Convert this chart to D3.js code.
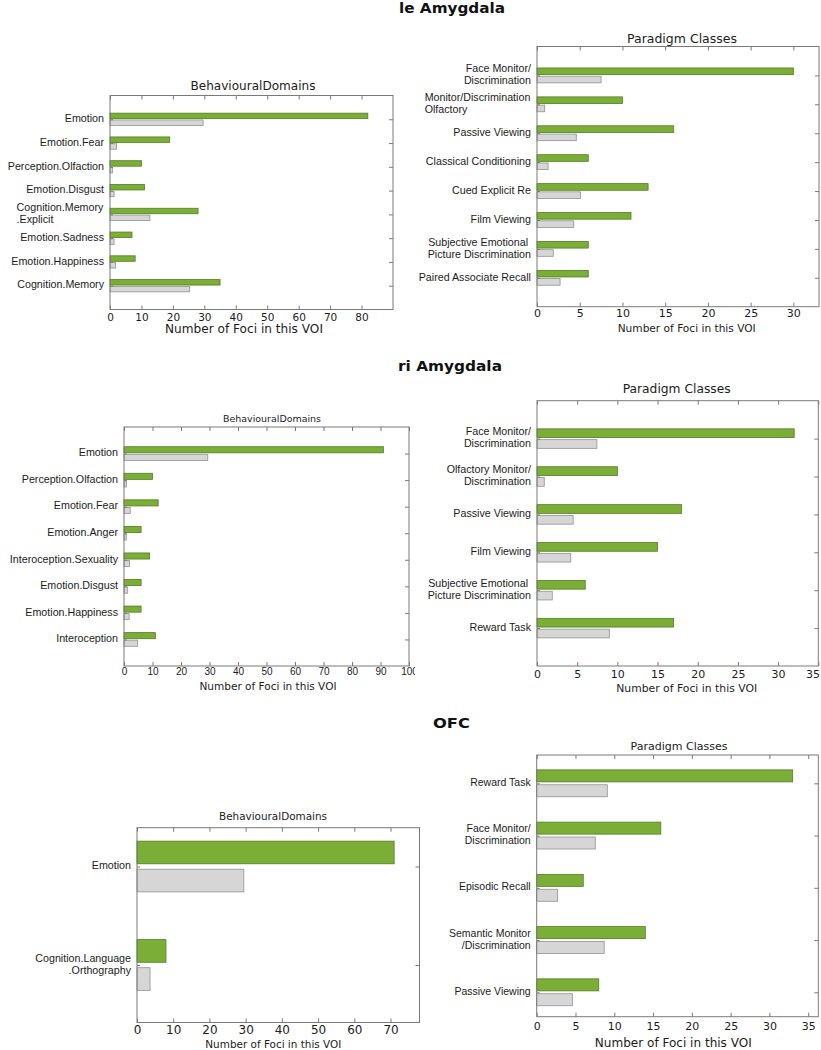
<!DOCTYPE html>
<html><head><meta charset="utf-8">
<script src="https://cdn.jsdelivr.net/npm/d3@7"></script>
<style>body{margin:0;background:#fff}svg{display:block}</style>
</head><body>
<svg id="chart" width="821" height="1050"></svg>
<script>
// ---------- data ----------
const sectionTitles = ["le Amygdala", "ri Amygdala", "OFC"];

const leBDCategories = ["Emotion","Emotion.Fear","Perception.Olfaction","Emotion.Disgust","Cognition.Memory\n.Explicit","Emotion.Sadness","Emotion.Happiness","Cognition.Memory"];
const leBDObserved = [82, 19, 10, 11, 28, 7, 8, 35];
const leBDExpected = [29.6, 2.1, 0.8, 1.3, 12.7, 1.3, 1.8, 25.3];
const leBDTicks = [0,10,20,30,40,50,60,70,80];

const lePCCategories = ["Face Monitor/\nDiscrimination","Monitor/Discrimination\nOlfactory","Passive Viewing","Classical Conditioning","Cued Explicit Re","Film Viewing","Subjective Emotional\u00A0\nPicture Discrimination","Paired Associate Recall"];
const lePCObserved = [30, 10, 16, 6, 13, 11, 6, 6];
const lePCExpected = [7.5, 0.9, 4.6, 1.3, 5.1, 4.3, 1.9, 2.7];
const lePCTicks = [0,5,10,15,20,25,30];

const riBDCategories = ["Emotion","Perception.Olfaction","Emotion.Fear","Emotion.Anger","Interoception.Sexuality","Emotion.Disgust","Emotion.Happiness","Interoception"];
const riBDObserved = [91, 10, 12, 6, 9, 6, 6, 11];
const riBDExpected = [29.4, 0.9, 2.2, 0.8, 1.9, 1.3, 1.8, 4.8];
const riBDTicks = [0,10,20,30,40,50,60,70,80,90,100];

const riPCCategories = ["Face Monitor/\nDiscrimination","Olfactory Monitor/\nDiscrimination","Passive Viewing","Film Viewing","Subjective Emotional\u00A0\nPicture Discrimination","Reward Task"];
const riPCObserved = [32, 10, 18, 15, 6, 17];
const riPCExpected = [7.45, 0.9, 4.5, 4.2, 1.9, 9.0];
const riPCTicks = [0,5,10,15,20,25,30,35];

const ofcBDCategories = ["Emotion","Cognition.Language\n.Orthography"];
const ofcBDObserved = [71, 8];
const ofcBDExpected = [29.5, 3.6];
const ofcBDTicks = [0,10,20,30,40,50,60,70];

const ofcPCCategories = ["Reward Task","Face Monitor/\nDiscrimination","Episodic Recall","Semantic Monitor\n/Discrimination","Passive Viewing"];
const ofcPCObserved = [33, 16, 6, 14, 8];
const ofcPCExpected = [9.1, 7.55, 2.7, 8.7, 4.6];
const ofcPCTicks = [0,5,10,15,20,25,30,35];

const leftAlignedLabels = new Set(["Cognition.Memory\n.Explicit","Monitor/Discrimination\nOlfactory"]);

// ---------- layout / style ----------
const XLABEL = "Number of Foci in this VOI";
const panels = [
  {cats:leBDCategories, obs:leBDObserved, exp:leBDExpected, ticks:leBDTicks, xMax:90, yLim:[0,9],
   box:[110,95.5,393,309.5], title:"BehaviouralDomains", titleX:253, titleY:90, titleW:125, titleFs:11.5,
   xlX:244, xlY:333, xlW:158, xlFs:11.5, tickFs:10.5, tickBase:11.2, catFs:10.7},
  {cats:lePCCategories, obs:lePCObserved, exp:lePCExpected, ticks:lePCTicks, xMax:33, yLim:[0,9],
   box:[537,46.5,819,306.7], title:"Paradigm Classes", titleX:682, titleY:43, titleW:110, titleFs:11.5,
   xlX:686.7, xlY:332, xlW:138, xlFs:10.5, tickFs:11, tickBase:10.8, catFs:10.7},
  {cats:riBDCategories, obs:riBDObserved, exp:riBDExpected, ticks:riBDTicks, xMax:100, yLim:[0,9],
   box:[124,427,409,666], title:"BehaviouralDomains", titleX:272, titleY:421.5, titleW:98, titleFs:9.5,
   xlX:268, xlY:690, xlW:137, xlFs:10.5, tickFs:10, tickBase:8.5, catFs:10.7, tickFont:"Liberation Sans", clip:415},
  {cats:riPCCategories, obs:riPCObserved, exp:riPCExpected, ticks:riPCTicks, xMax:35, yLim:[0,7],
   box:[537,400.7,818.3,666], title:"Paradigm Classes", titleX:676.7, titleY:393.3, titleW:108, titleFs:11.5,
   xlX:686.7, xlY:692, xlW:141, xlFs:10.8, tickFs:11, tickBase:12, catFs:10.7},
  {cats:ofcBDCategories, obs:ofcBDObserved, exp:ofcBDExpected, ticks:ofcBDTicks, xMax:78, yLim:[0.606,2.584],
   box:[137,827.7,419.5,1022.5], title:"BehaviouralDomains", titleX:273, titleY:820, titleW:108, titleFs:10.5,
   xlX:273.3, xlY:1048, xlW:136, xlFs:10.4, tickFs:12, tickBase:11, catFs:10.7},
  {cats:ofcPCCategories, obs:ofcPCObserved, exp:ofcPCExpected, ticks:ofcPCTicks, xMax:36.3, yLim:[0.458,5.467],
   box:[536.7,755,818.3,1016.7], title:"Paradigm Classes", titleX:679, titleY:750, titleW:97, titleFs:11,
   xlX:673.3, xlY:1047, xlW:157, xlFs:12, tickFs:11, tickBase:13, catFs:10.5}
];
const sectionPos = [{x:452,y:13,w:106},{x:450,y:370.5,w:104},{x:451.5,y:727.5,w:37}];

const GREEN = "#7aae36", GREEN_STROKE = "#527f20";
const GREY = "#d6d6d6", GREY_STROKE = "#929292";
const AXIS = "#7a7a7a", TEXT = "#1c1c1c";
const BAR_T = 0.23, BAR_GAP = 0.055;
const W = 821;

const svg = d3.select("#chart");
svg.append("rect").attr("width",W).attr("height",1050).attr("fill","#fff");

// section titles
sectionTitles.forEach((t,i)=>{
  svg.append("text").attr("x",sectionPos[i].x).attr("y",sectionPos[i].y)
    .attr("text-anchor","middle").attr("font-family","DejaVu Sans, sans-serif")
    .attr("font-weight","bold").attr("font-size",14.5).attr("fill","#111")
    .attr("textLength",sectionPos[i].w).attr("lengthAdjust","spacingAndGlyphs").text(t);
});

const defs = svg.append("defs");

panels.forEach((p,pi)=>{
  const [L,T,R,B] = p.box;
  const g = svg.append("g");
  if (p.clip) {
    defs.append("clipPath").attr("id","clip"+pi).append("rect")
      .attr("x",0).attr("y",0).attr("width",p.clip).attr("height",1050);
    g.attr("clip-path","url(#clip"+pi+")");
  }
  const x = d3.scaleLinear().domain([0,p.xMax]).range([L,R]);
  const y = d3.scaleLinear().domain(p.yLim).range([T,B]);
  const idx = p.cats.map((c,i)=>i+1);

  // bars
  g.selectAll("rect.obs").data(p.obs).join("rect").attr("class","obs")
    .attr("x",x(0)).attr("width",d=>x(d)-x(0))
    .attr("y",(d,i)=>y(i+1-BAR_GAP/2-BAR_T)).attr("height",(d,i)=>y(i+1-BAR_GAP/2)-y(i+1-BAR_GAP/2-BAR_T))
    .attr("fill",GREEN).attr("stroke",GREEN_STROKE).attr("stroke-width",0.8);
  g.selectAll("rect.exp").data(p.exp).join("rect").attr("class","exp")
    .attr("x",x(0)).attr("width",d=>x(d)-x(0))
    .attr("y",(d,i)=>y(i+1+BAR_GAP/2)).attr("height",(d,i)=>y(i+1+BAR_GAP/2+BAR_T)-y(i+1+BAR_GAP/2))
    .attr("fill",GREY).attr("stroke",GREY_STROKE).attr("stroke-width",0.8);

  // axes
  const tickFont = p.tickFont || "DejaVu Sans";
  const xb = g.append("g").attr("transform",`translate(0,${B})`)
    .call(d3.axisBottom(x).tickValues(p.ticks).tickSize(-4).tickPadding(p.tickBase-0.71*p.tickFs).tickFormat(d3.format("d")));
  xb.selectAll("text").attr("font-family",tickFont).attr("font-size",p.tickFs).attr("fill",TEXT);
  if (!p.clip) {
    xb.selectAll(".tick").each(function(){
      const tx = d3.select(this).select("text");
      const bb = this.getBoundingClientRect();
      const over = bb.right - (W - 1);
      if (over > 0) tx.attr("dx", -over);
    });
  }
  const xt = g.append("g").attr("transform",`translate(0,${T})`)
    .call(d3.axisTop(x).tickValues(p.ticks).tickSize(-4).tickFormat(""));
  const yl = g.append("g").attr("transform",`translate(${L},0)`)
    .call(d3.axisLeft(y).tickValues(idx).tickSize(-3).tickFormat(""));
  const yr = g.append("g").attr("transform",`translate(${R},0)`)
    .call(d3.axisRight(y).tickValues(idx).tickSize(-4).tickFormat(""));
  [xb,xt,yl,yr].forEach(a=>{ a.select(".domain").remove(); a.selectAll("line").attr("stroke",AXIS); });

  g.append("rect").attr("x",L).attr("y",T).attr("width",R-L).attr("height",B-T)
    .attr("fill","none").attr("stroke",AXIS).attr("stroke-width",1);

  // category labels
  p.cats.forEach((c,i)=>{
    const lines = c.split("\n");
    const lh = p.catFs*1.12;
    const yc = y(i+1);
    const tx = L-6;
    const t = g.append("text").attr("font-family","Liberation Sans, Arial, sans-serif")
      .attr("font-size",p.catFs).attr("fill",TEXT).attr("text-anchor","end");
    lines.forEach((ln,k)=>{
      t.append("tspan").attr("x",tx).attr("y",yc+(k-(lines.length-1)/2)*lh-1).attr("dy","0.35em").text(ln);
    });
    if (leftAlignedLabels.has(c)) {
      const w = t.node().getBBox().width;
      t.attr("text-anchor","start");
      t.selectAll("tspan").attr("x",tx-w);
    }
  });

  // title & x label
  g.append("text").attr("x",p.titleX).attr("y",p.titleY).attr("text-anchor","middle")
    .attr("font-family","DejaVu Sans, sans-serif").attr("font-size",p.titleFs).attr("fill",TEXT)
    .attr("textLength",p.titleW).attr("lengthAdjust","spacingAndGlyphs").text(p.title);
  g.append("text").attr("x",p.xlX).attr("y",p.xlY).attr("text-anchor","middle")
    .attr("font-family","DejaVu Sans, sans-serif").attr("font-size",p.xlFs).attr("fill",TEXT)
    .attr("textLength",p.xlW).attr("lengthAdjust","spacingAndGlyphs").text(XLABEL);
});
</script>
</body></html>
